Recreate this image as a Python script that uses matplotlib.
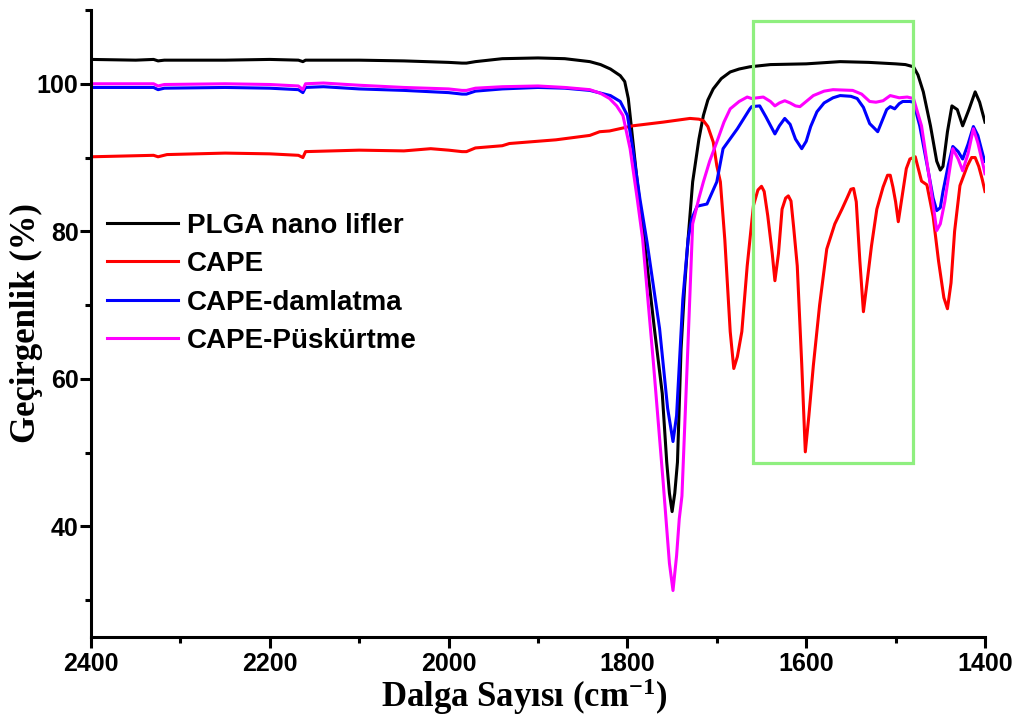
import matplotlib
matplotlib.use("Agg")
import matplotlib.pyplot as plt
from matplotlib.patches import Rectangle
from matplotlib.ticker import MultipleLocator
from matplotlib.font_manager import FontProperties

plt.rcParams['mathtext.fontset'] = 'custom'
plt.rcParams['mathtext.rm'] = 'Liberation Serif:bold'
plt.rcParams['mathtext.bf'] = 'Liberation Serif:bold'
plt.rcParams['mathtext.default'] = 'rm'

# ---------------- data ----------------
plga_x = [2400, 2350, 2330, 2325, 2318, 2250, 2200, 2168, 2163, 2160, 2100, 2050, 2000, 1985,
          1980, 1970, 1940, 1900, 1870, 1842, 1830, 1819, 1808, 1803, 1799, 1795, 1789, 1780,
          1770, 1761, 1756, 1753, 1750, 1747, 1744, 1740, 1736, 1733, 1727, 1720, 1715, 1710,
          1704, 1695, 1685, 1675, 1663, 1640, 1600, 1562, 1530, 1500, 1489, 1480, 1475, 1469,
          1461, 1454, 1450, 1447, 1442, 1437, 1431, 1425, 1418, 1411, 1406, 1400]
plga_y = [103.3, 103.2, 103.3, 103.1, 103.2, 103.2, 103.3, 103.2, 103.0, 103.2, 103.2, 103.1,
          102.9, 102.8, 102.8, 103.0, 103.4, 103.5, 103.4, 103.0, 102.6, 102.0, 101.1, 100.3,
          98.0, 93.5, 86.7, 77.6, 67.0, 58.0, 48.7, 44.5, 42.0, 44.5, 48.7, 64.0, 72.5, 77.6,
          86.7, 92.5, 95.7, 97.8, 99.3, 100.7, 101.6, 102.0, 102.3, 102.6, 102.7, 103.0, 102.9,
          102.7, 102.6, 102.3, 101.2, 98.9, 94.3, 89.5, 88.3, 88.8, 93.5, 97.0, 96.5, 94.3,
          96.5, 98.9, 97.5, 94.8]

cape_x = [2400, 2330, 2325, 2315, 2250, 2200, 2168, 2163, 2160, 2100, 2050, 2020, 2000, 1985,
          1980, 1970, 1940, 1932, 1880, 1842, 1831, 1820, 1794, 1760, 1730, 1720, 1715, 1710,
          1704, 1700, 1696, 1691, 1685, 1681, 1677, 1672, 1666, 1659, 1654, 1650, 1647, 1643,
          1638, 1635, 1631, 1627, 1623, 1620, 1617, 1614, 1610, 1605, 1601, 1597, 1592, 1585,
          1577, 1568, 1560, 1554, 1550, 1547, 1544, 1540, 1536, 1532, 1527, 1521, 1514, 1509,
          1506, 1503, 1500, 1497, 1493, 1488, 1484, 1478, 1471, 1465, 1458, 1452, 1446, 1442,
          1438, 1434, 1428, 1420, 1415, 1411, 1407, 1403, 1400]
cape_y = [90.1, 90.3, 90.1, 90.4, 90.6, 90.5, 90.3, 90.0, 90.8, 91.0, 90.9, 91.2, 91.0, 90.8,
          90.8, 91.3, 91.6, 91.9, 92.4, 93.0, 93.5, 93.6, 94.3, 94.8, 95.3, 95.2, 95.0, 94.2,
          92.1, 88.9, 86.7, 78.8, 66.4, 61.4, 63.0, 66.4, 75.3, 83.5, 85.6, 86.1, 85.4, 82.1,
          77.0, 73.3, 77.0, 83.0, 84.5, 84.8, 84.1, 80.5, 75.3, 62.0, 50.1, 55.0, 61.8, 70.0,
          77.6, 81.0, 83.0, 84.6, 85.7, 85.8, 84.0, 76.0, 69.1, 73.0, 78.0, 83.0, 86.0, 87.6,
          87.6, 86.0, 84.0, 81.3, 84.5, 88.5, 89.8, 90.1, 86.8, 86.3, 82.0, 76.0, 71.0, 69.5,
          73.0, 80.0, 86.2, 88.8, 90.0, 90.0, 88.8, 87.0, 85.4]

damla_x = [2400, 2330, 2325, 2318, 2250, 2200, 2168, 2163, 2160, 2140, 2100, 2050, 2000, 1985,
           1980, 1970, 1940, 1900, 1870, 1842, 1819, 1808, 1800, 1794, 1786, 1778, 1764, 1755,
           1749, 1745, 1738, 1732, 1728, 1722, 1711, 1700, 1693, 1677, 1663, 1661, 1652, 1645,
           1635, 1630, 1624, 1618, 1612, 1605, 1600, 1595, 1588, 1580, 1570, 1562, 1550, 1543,
           1536, 1529, 1524, 1520, 1515, 1510, 1506, 1501, 1496, 1492, 1484, 1480, 1473, 1464,
           1458, 1454, 1450, 1447, 1441, 1436, 1430, 1425, 1419, 1413, 1408, 1402, 1400]
damla_y = [99.5, 99.5, 99.2, 99.4, 99.5, 99.4, 99.2, 98.8, 99.5, 99.6, 99.3, 99.1, 98.8, 98.6,
           98.6, 99.0, 99.3, 99.5, 99.4, 99.1, 98.4, 97.6, 95.7, 91.2, 84.4, 78.5, 66.8, 56.0,
           51.5, 55.0, 70.8, 79.0, 81.7, 83.4, 83.7, 86.7, 91.2, 93.9, 96.6, 96.9, 97.0, 95.5,
           93.2, 94.3, 95.3, 94.5, 92.5, 91.2, 92.2, 94.2, 96.2, 97.4, 98.1, 98.4, 98.3, 98.0,
           96.8, 94.6, 94.0, 93.5, 95.0, 96.5, 96.9, 96.6, 97.3, 97.6, 97.6, 97.5, 94.3, 88.5,
           84.5, 82.8, 83.2, 85.4, 89.0, 91.5, 90.8, 89.8, 91.8, 94.2, 93.0, 90.2, 89.5]

puskurtme_x = [2400, 2330, 2325, 2318, 2250, 2200, 2168, 2163, 2160, 2140, 2100, 2050, 2000,
               1985, 1980, 1970, 1940, 1900, 1870, 1842, 1830, 1820, 1812, 1805, 1797, 1789,
               1783, 1771, 1760, 1756, 1753, 1749, 1745, 1742, 1739, 1733, 1727, 1720, 1715,
               1708, 1700, 1692, 1685, 1675, 1666, 1661, 1648, 1640, 1635, 1630, 1624, 1618,
               1612, 1607, 1600, 1592, 1580, 1570, 1548, 1538, 1529, 1522, 1514, 1506, 1496,
               1487, 1480, 1471, 1461, 1454, 1450, 1445, 1440, 1436, 1430, 1425, 1419, 1413,
               1408, 1402, 1400]
puskurtme_y = [100.0, 100.0, 99.7, 99.9, 100.0, 99.9, 99.7, 99.2, 100.0, 100.1, 99.8, 99.5,
               99.3, 99.1, 99.1, 99.4, 99.6, 99.7, 99.5, 99.2, 98.7, 98.0, 97.0, 95.7, 91.2,
               84.4, 79.0, 62.3, 46.0, 39.7, 35.0, 31.3, 36.0, 41.0, 44.1, 62.3, 81.0, 84.5,
               86.7, 89.5, 92.1, 94.8, 96.6, 97.6, 98.2, 98.0, 98.2, 97.6, 97.0, 97.4, 97.7,
               97.4, 97.0, 96.9, 97.6, 98.4, 99.0, 99.2, 99.1, 98.6, 97.6, 97.5, 97.7, 98.4,
               98.1, 98.2, 98.0, 94.3, 86.2, 80.1, 81.0, 84.0, 88.0, 91.2, 89.8, 88.2, 90.5,
               93.9, 92.0, 88.9, 87.8]

series_labels = ["PLGA nano lifler", "CAPE", "CAPE-damlatma", "CAPE-Püskürtme"]
series_colors = ["#000000", "#ff0000", "#0000ff", "#ff00ff"]

box_x = [1660, 1480]
box_y = [48.6, 108.5]

# ---------------- figure ----------------
fig = plt.figure(figsize=(10.19, 7.2), dpi=100)
ax = fig.add_axes([91 / 1019, 1 - 637 / 720, (985 - 91) / 1019, (637 - 10) / 720])

all_series = [(plga_x, plga_y), (cape_x, cape_y), (damla_x, damla_y), (puskurtme_x, puskurtme_y)]
for (xs, ys), lab, col in zip(all_series, series_labels, series_colors):
    ax.plot(xs, ys, color=col, lw=2.2, label=lab, solid_joinstyle='round')

ax.add_patch(Rectangle((box_x[0], box_y[0]), box_x[1] - box_x[0], box_y[1] - box_y[0],
                       fill=False, edgecolor='#8fef7f', lw=2.3, zorder=5))

ax.set_xlim(2400, 1400)
ax.set_ylim(25, 110)
ax.xaxis.set_major_locator(MultipleLocator(200))
ax.xaxis.set_minor_locator(MultipleLocator(100))
ax.yaxis.set_minor_locator(MultipleLocator(10))
ax.set_yticks([40, 60, 80, 100])

for s in ['top', 'right']:
    ax.spines[s].set_visible(False)
for s in ['left', 'bottom']:
    ax.spines[s].set_linewidth(2.2)

ax.tick_params(which='major', direction='out', length=8, width=2.2, pad=1)
ax.tick_params(which='minor', direction='out', length=4.5, width=2.2)
tick_fp = FontProperties(family='Liberation Sans', weight='bold', size=18)
for lab in ax.get_xticklabels() + ax.get_yticklabels():
    lab.set_fontproperties(tick_fp)
ax.tick_params(axis='x', pad=3)

ax.set_xlabel("Dalga Sayısı (cm$^{-1}$)", family='Liberation Serif', weight='bold', size=25)
ax.set_ylabel("Geçirgenlik (%)", family='Liberation Serif', weight='bold', size=25)
ax.xaxis.set_label_coords(0.484, -0.062)
ax.yaxis.set_label_coords(-0.054, 0.5)

leg = ax.legend(loc='upper left', bbox_to_anchor=(0.018, 0.677), frameon=False,
                prop=dict(family='Liberation Sans', weight='bold', size=20),
                handlelength=2.57, handletextpad=0.3, labelspacing=0.45,
                borderpad=0, borderaxespad=0)
for line in leg.get_lines():
    line.set_linewidth(2.2)

fig.savefig("out.png", dpi=100, facecolor='white')
